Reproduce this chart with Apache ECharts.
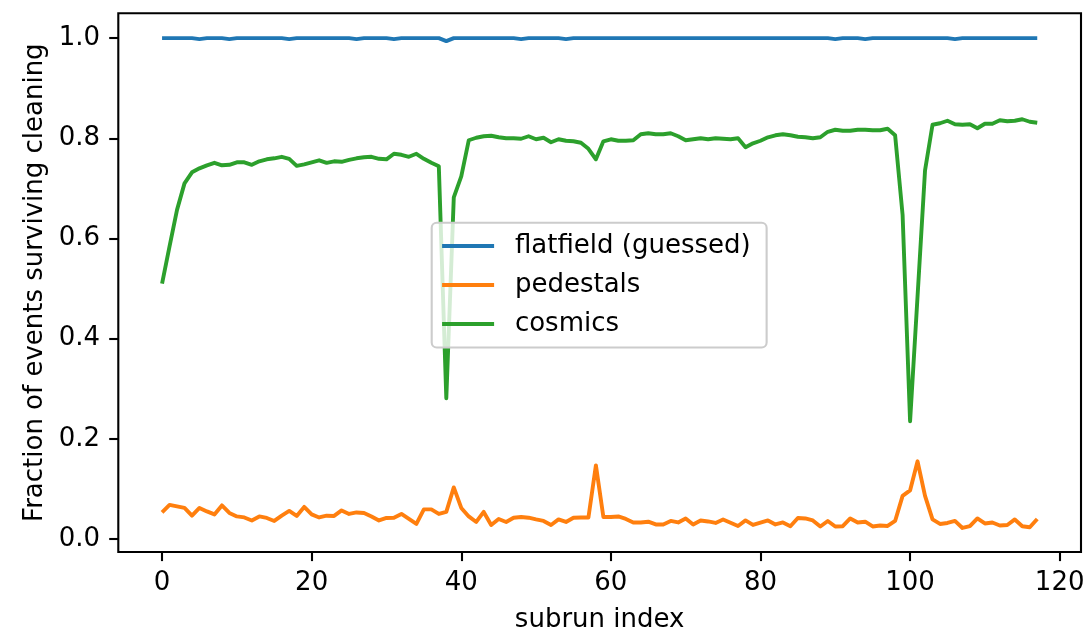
<!DOCTYPE html>
<html>
<head>
<meta charset="utf-8">
<script src="https://cdn.jsdelivr.net/npm/echarts@6/dist/echarts.min.js"></script>
<style>
html,body{margin:0;padding:0;background:#fff;}
#chart{width:1091px;height:638px;}
</style>
</head>
<body>
<div id="chart"></div>
<script>
const seriesNames = ['flatfield (guessed)', 'pedestals', 'cosmics'];
const xTicks = [0, 20, 40, 60, 80, 100, 120];
const yTicks = [0, 0.2, 0.4, 0.6, 0.8, 1.0];

const flatfield = [
1.0,1.0,1.0,1.0,1.0,0.998,1.0,1.0,1.0,0.998,
1.0,1.0,1.0,1.0,1.0,1.0,1.0,0.998,1.0,1.0,
1.0,1.0,1.0,1.0,1.0,1.0,0.998,1.0,1.0,1.0,
1.0,0.998,1.0,1.0,1.0,1.0,1.0,1.0,0.994,1.0,
1.0,1.0,1.0,1.0,1.0,1.0,1.0,1.0,0.998,1.0,
1.0,1.0,1.0,1.0,0.998,1.0,1.0,1.0,1.0,1.0,
1.0,1.0,1.0,1.0,1.0,1.0,1.0,1.0,1.0,1.0,
1.0,1.0,1.0,1.0,1.0,1.0,1.0,1.0,1.0,1.0,
1.0,1.0,1.0,1.0,1.0,1.0,1.0,1.0,1.0,1.0,
0.998,1.0,1.0,1.0,0.998,1.0,1.0,1.0,1.0,1.0,
1.0,1.0,1.0,1.0,1.0,1.0,0.998,1.0,1.0,1.0,
1.0,1.0,1.0,1.0,1.0,1.0,1.0,1.0
];

const pedestals = [
0.053,0.068,0.065,0.062,0.0465,0.062,0.055,0.049,0.067,0.052,
0.045,0.043,0.037,0.045,0.042,0.036,0.0465,0.056,0.046,0.064,
0.049,0.043,0.0465,0.046,0.057,0.050,0.053,0.052,0.045,0.037,
0.042,0.0425,0.050,0.040,0.030,0.059,0.059,0.050,0.054,0.103,
0.062,0.045,0.034,0.054,0.028,0.040,0.034,0.0425,0.044,0.0425,
0.039,0.036,0.028,0.039,0.034,0.0425,0.043,0.043,0.147,0.044,
0.044,0.045,0.040,0.033,0.033,0.0345,0.029,0.029,0.036,0.033,
0.041,0.029,0.037,0.035,0.032,0.039,0.0325,0.026,0.037,0.028,
0.0325,0.037,0.029,0.033,0.0255,0.042,0.041,0.037,0.025,0.036,
0.025,0.0255,0.041,0.033,0.0345,0.025,0.027,0.026,0.036,0.086,
0.097,0.155,0.086,0.039,0.030,0.032,0.036,0.022,0.0255,0.041,
0.031,0.033,0.027,0.028,0.039,0.0255,0.0235,0.040
];

const cosmics = [
0.510,0.584,0.657,0.710,0.732,0.740,0.746,0.751,0.746,0.747,
0.752,0.752,0.747,0.754,0.758,0.760,0.763,0.759,0.745,0.748,
0.752,0.756,0.751,0.754,0.753,0.757,0.760,0.762,0.763,0.759,
0.758,0.769,0.767,0.763,0.769,0.759,0.751,0.744,0.281,0.682,
0.724,0.796,0.801,0.804,0.805,0.802,0.800,0.800,0.799,0.804,
0.798,0.801,0.792,0.798,0.795,0.794,0.791,0.779,0.758,0.794,
0.798,0.795,0.795,0.796,0.808,0.810,0.808,0.808,0.810,0.804,
0.796,0.798,0.800,0.798,0.800,0.799,0.798,0.800,0.782,0.790,
0.795,0.802,0.806,0.808,0.806,0.803,0.802,0.800,0.802,0.813,
0.817,0.815,0.815,0.817,0.817,0.816,0.816,0.819,0.806,0.647,
0.235,0.485,0.736,0.827,0.830,0.835,0.828,0.827,0.828,0.820,
0.829,0.829,0.836,0.834,0.835,0.838,0.833,0.831
];

const colors = ['#1f77b4', '#ff7f0e', '#2ca02c'];
const FONT = 'DejaVu Sans';
const FS = 26;

function pairs(arr) { return arr.map((v, i) => [i, v]); }

const chart = echarts.init(document.getElementById('chart'), null, {renderer: 'canvas'});
chart.setOption({
  animation: false,
  backgroundColor: '#ffffff',
  color: colors,
  grid: {
    left: 118.3, right: 10, top: 13.3, bottom: 81.3,
    show: true, borderColor: '#000', borderWidth: 2.1, backgroundColor: 'transparent'
  },
  legend: {
    orient: 'vertical',
    left: 431.7, top: 222.7,
    data: seriesNames,
    icon: 'rect',
    itemWidth: 52, itemHeight: 4, itemGap: 13,
    padding: [10.4, 16, 10.4, 10.4],
    backgroundColor: 'rgba(255,255,255,0.8)',
    borderColor: '#cccccc', borderWidth: 2.1, borderRadius: 5,
    textStyle: {fontFamily: FONT, fontSize: FS, color: '#000', lineHeight: 26, padding: [0, 0, 0, 15.8]},
    selectedMode: false
  },
  xAxis: {
    type: 'value', min: -5.85, max: 122.85,
    name: 'subrun index', nameLocation: 'middle', nameGap: 55,
    nameTextStyle: {fontFamily: FONT, fontSize: FS, color: '#000'},
    axisLine: {show: false, onZero: false},
    axisTick: {show: true, inside: false, length: 9.1, lineStyle: {color: '#000', width: 2.1}, customValues: xTicks},
    axisLabel: {fontFamily: FONT, fontSize: FS, color: '#000', margin: 18, customValues: xTicks,
      formatter: v => String(Math.round(v))},
    splitLine: {show: false}
  },
  yAxis: {
    type: 'value', min: -0.026, max: 1.0495,
    name: 'Fraction of events surviving cleaning', nameLocation: 'middle', nameGap: 70,
    nameTextStyle: {fontFamily: FONT, fontSize: FS, color: '#000'},
    axisLine: {show: false, onZero: false},
    axisTick: {show: true, inside: false, length: 9.1, lineStyle: {color: '#000', width: 2.1}, customValues: yTicks},
    axisLabel: {fontFamily: FONT, fontSize: FS, color: '#000', margin: 18.2, customValues: yTicks,
      formatter: v => v.toFixed(1)},
    splitLine: {show: false}
  },
  series: [
    {name: seriesNames[0], type: 'line', data: pairs(flatfield), showSymbol: false, symbol: 'none',
     lineStyle: {width: 3.9, color: colors[0], join: 'round'}},
    {name: seriesNames[1], type: 'line', data: pairs(pedestals), showSymbol: false, symbol: 'none',
     lineStyle: {width: 3.9, color: colors[1], join: 'round'}},
    {name: seriesNames[2], type: 'line', data: pairs(cosmics), showSymbol: false, symbol: 'none',
     lineStyle: {width: 3.9, color: colors[2], join: 'round'}}
  ]
});
</script>
</body>
</html>
